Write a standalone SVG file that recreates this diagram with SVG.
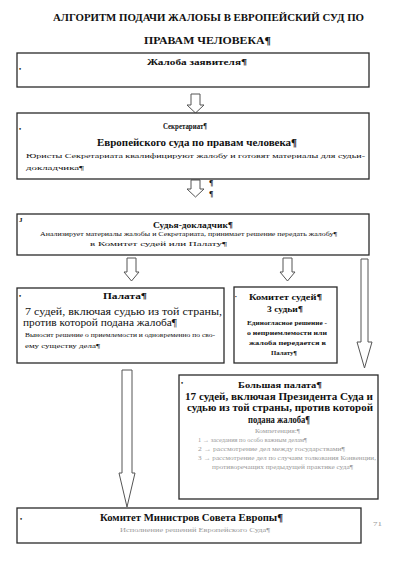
<svg xmlns="http://www.w3.org/2000/svg" width="400" height="567" viewBox="0 0 400 567">
<style>
.box{fill:#fff;stroke:#2a2a2a;stroke-width:1.3}
.arr{fill:#fff;stroke:#555;stroke-width:1}
.t{font-family:"Liberation Serif","DejaVu Serif",serif;fill:#111}
.b{font-weight:bold}
.g{fill:#999}
.c{text-anchor:start}
</style>
<defs>
<clipPath id="clip2"><rect x="17" y="113" width="352" height="65"/></clipPath>
</defs>
<rect width="400" height="567" fill="#fff"/>
<g id="title">
<text class="t b" x="53" y="21" font-size="10.5" textLength="311" lengthAdjust="spacingAndGlyphs">АЛГОРИТМ ПОДАЧИ ЖАЛОБЫ В ЕВРОПЕЙСКИЙ СУД ПО</text>
<text class="t b" x="144" y="44" font-size="10.5" textLength="127" lengthAdjust="spacingAndGlyphs">ПРАВАМ ЧЕЛОВЕКА¶</text>
</g>
<g id="connectors">
<path class="arr" d="M191,94 H200 V105 H204 L195.5,113 L187,105 H191 Z"/>
<path class="arr" d="M191,180 H200 V189 H204 L195.5,197 L187,189 H191 Z"/>
<path class="arr" d="M127,258 H136 V272 H139 L131.5,281 L124,272 H127 Z"/>
<path class="arr" d="M283,258 H292 V272 H295 L287.5,281 L280,272 H283 Z"/>
<path class="arr" d="M361,259 H368 V342 H372 L364.5,368 L357,342 H361 Z" stroke-width="1.6"/>
<path class="arr" d="M122,370 H132 V473 H135 L127,507 L119,473 H122 Z"/>
<text class="t b" x="209" y="186" font-size="8">¶</text>
<text class="t b" x="209" y="197" font-size="8">¶</text>
</g>
<g id="n1">
<rect class="box" x="17" y="53" width="352" height="34"/>
<text class="t b" x="19" y="71" font-size="6">•</text>
<text class="t b" x="147" y="65" font-size="9" textLength="100" lengthAdjust="spacingAndGlyphs">Жалоба заявителя¶</text>
</g>
<g id="n2">
<rect class="box" x="17" y="113" width="352" height="66"/>
<text class="t b" x="19" y="131" font-size="6">•</text>
<text class="t b" x="163" y="129" font-size="9" textLength="44" lengthAdjust="spacingAndGlyphs">Секретариат¶</text>
<text class="t b" x="97" y="146" font-size="9.5" textLength="200" lengthAdjust="spacingAndGlyphs">Европейского суда по правам человека¶</text>
<text class="t" x="26" y="158" font-size="7" textLength="339" lengthAdjust="spacingAndGlyphs">Юристы Секретариата квалифицируют жалобу и готовят материалы для судьи-</text>
<text class="t" x="26" y="170" font-size="7" textLength="58" lengthAdjust="spacingAndGlyphs" clip-path="url(#clip2)">докладчика¶</text>
</g>
<g id="n3">
<rect class="box" x="17" y="214" width="352" height="41"/>
<text class="t b" x="19" y="222" font-size="7">J</text>
<text class="t b" x="153" y="228" font-size="9" textLength="80" lengthAdjust="spacingAndGlyphs">Судья-докладчик¶</text>
<text class="t" x="40" y="236" font-size="6.5" textLength="297" lengthAdjust="spacingAndGlyphs">Анализирует материалы жалобы и Секретариата, принимает решение передать жалобу¶</text>
<text class="t" x="90" y="246" font-size="6.5" textLength="137" lengthAdjust="spacingAndGlyphs">в Комитет судей или Палату¶</text>
</g>
<g id="n4">
<rect class="box" x="17" y="288" width="207" height="75"/>
<text class="t b" x="19" y="298" font-size="6">•</text>
<text class="t b" x="103" y="299" font-size="9" textLength="44" lengthAdjust="spacingAndGlyphs">Палата¶</text>
<text class="t" x="25" y="315" font-size="9.5" textLength="197" lengthAdjust="spacingAndGlyphs">7 судей, включая судью из той страны,</text>
<text class="t" x="23" y="326" font-size="9.5" textLength="154" lengthAdjust="spacingAndGlyphs">против которой подана жалоба¶</text>
<text class="t" x="25" y="337" font-size="6.5" textLength="190" lengthAdjust="spacingAndGlyphs">Выносит решение о приемлемости и одновременно по сво-</text>
<text class="t" x="25" y="348" font-size="6.5" textLength="75" lengthAdjust="spacingAndGlyphs">ему существу дела¶</text>
</g>
<g id="n5">
<rect class="box" x="234" y="287" width="103" height="76"/>
<text class="t b" x="235" y="298" font-size="5">•</text>
<text class="t b" x="249" y="300" font-size="9" textLength="73" lengthAdjust="spacingAndGlyphs">Комитет судей¶</text>
<text class="t b" x="267" y="312" font-size="9" textLength="36" lengthAdjust="spacingAndGlyphs">3 судьи¶</text>
<text class="t b" x="247" y="325" font-size="6.5" textLength="80" lengthAdjust="spacingAndGlyphs">Единогласное решение -</text>
<text class="t b" x="247" y="335" font-size="6.5" textLength="80" lengthAdjust="spacingAndGlyphs">о неприемлемости или</text>
<text class="t b" x="249" y="345" font-size="6.5" textLength="77" lengthAdjust="spacingAndGlyphs">жалоба передается в</text>
<text class="t b" x="271" y="355" font-size="6.5" textLength="26" lengthAdjust="spacingAndGlyphs">Палату¶</text>
</g>
<g id="n6">
<rect class="box" x="179" y="375" width="199" height="124"/>
<text class="t b" x="181" y="385" font-size="6">•</text>
<text class="t b" x="238" y="388" font-size="9" textLength="84" lengthAdjust="spacingAndGlyphs">Большая палата¶</text>
<text class="t b" x="185" y="400" font-size="10" textLength="188" lengthAdjust="spacingAndGlyphs">17 судей, включая Президента Суда и</text>
<text class="t b" x="187" y="411" font-size="10" textLength="186" lengthAdjust="spacingAndGlyphs">судью из той страны, против которой</text>
<text class="t b" x="248" y="423" font-size="10" textLength="62" lengthAdjust="spacingAndGlyphs">подана жалоба¶</text>
<text class="t g" x="255" y="433" font-size="5.5" textLength="45" lengthAdjust="spacingAndGlyphs">Компетенция:¶</text>
<text class="t g" x="198" y="442" font-size="5.5" textLength="109" lengthAdjust="spacingAndGlyphs">1 → заседания по особо важным делам¶</text>
<text class="t g" x="198" y="451" font-size="5.5" textLength="147" lengthAdjust="spacingAndGlyphs">2 → рассмотрение дел между государствами¶</text>
<text class="t g" x="198" y="460" font-size="5.5" textLength="178" lengthAdjust="spacingAndGlyphs">3 → рассмотрение дел по случаям толкования Конвенции,</text>
<text class="t g" x="212" y="469" font-size="5.5" textLength="141" lengthAdjust="spacingAndGlyphs">противоречащих предыдущей практике суда¶</text>
</g>
<g id="n7">
<rect class="box" x="17" y="508" width="344" height="35"/>
<text class="t b" x="20" y="521" font-size="6">•</text>
<text class="t b" x="100" y="521" font-size="9.5" textLength="183" lengthAdjust="spacingAndGlyphs">Комитет Министров Совета Европы¶</text>
<text class="t g" x="120" y="532" font-size="6" textLength="150" lengthAdjust="spacingAndGlyphs">Исполнение решений Европейского Суда¶</text>
</g>
<text class="t g" x="373" y="526" font-size="6" textLength="9" lengthAdjust="spacingAndGlyphs">71</text>
</svg>
